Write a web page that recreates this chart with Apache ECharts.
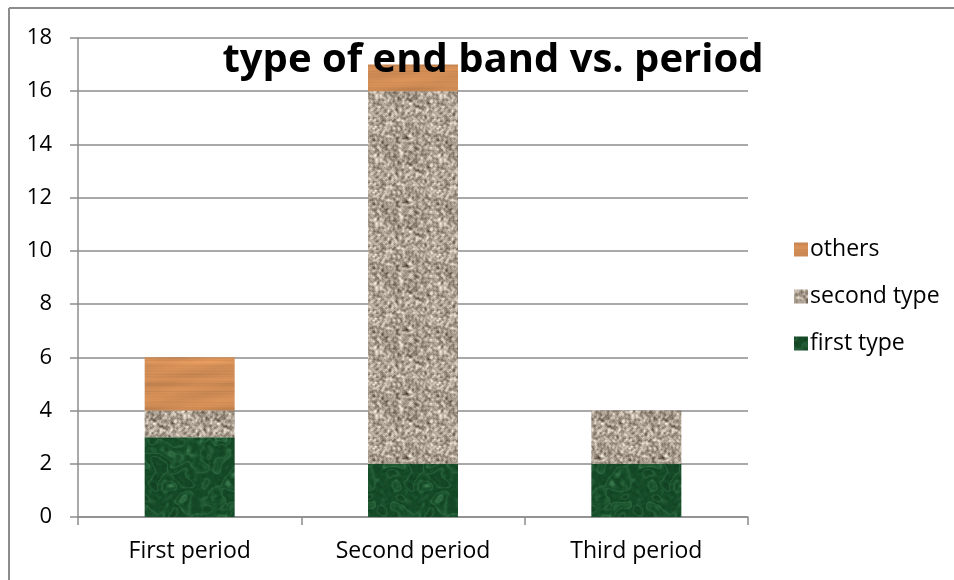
<!DOCTYPE html>
<html>
<head>
<meta charset="utf-8">
<script src="https://cdn.jsdelivr.net/npm/echarts@6/dist/echarts.min.js"></script>
<style>
html,body{margin:0;padding:0;background:#fff;}
#chart{width:954px;height:580px;}
</style>
</head>
<body>
<div id="chart"></div>
<script>
var categories = ['First period', 'Second period', 'Third period'];
var firstType = [3, 2, 2];
var secondType = [1, 14, 2];
var others = [2, 1, 0];
var yTicks = [0, 2, 4, 6, 8, 10, 12, 14, 16, 18];

// deterministic PRNG used only for fill textures (styling, not data)
function rng(seed){ return function(){ seed = (seed * 1664525 + 1013904223) >>> 0; return seed / 4294967296; }; }

function makeCanvas(w, h, fn){
  var c = document.createElement('canvas'); c.width = w; c.height = h;
  var ctx = c.getContext('2d'); var img = ctx.createImageData(w, h);
  fn(img.data, w, h); ctx.putImageData(img, 0, 0); return c;
}
function blur(arr, w, h, r){
  var out = new Float32Array(w*h);
  for (var y=0;y<h;y++) for (var x=0;x<w;x++){
    var s=0,n=0;
    for (var dy=-r;dy<=r;dy++) for (var dx=-r;dx<=r;dx++){
      var xx=(x+dx+w)%w, yy=(y+dy+h)%h; s+=arr[yy*w+xx]; n++;
    }
    out[y*w+x]=s/n;
  }
  return out;
}
function norm(arr){
  var mn=1e9,mx=-1e9; for (var i=0;i<arr.length;i++){ if(arr[i]<mn)mn=arr[i]; if(arr[i]>mx)mx=arr[i]; }
  for (var i=0;i<arr.length;i++) arr[i]=(arr[i]-mn)/(mx-mn); return arr;
}
function woodTex(){
  var r = rng(11);
  return makeCanvas(90, 64, function(d,w,h){
    var rowv = []; for (var y=0;y<h;y++) rowv.push(r());
    var rs = []; for (var y=0;y<h;y++){ rs.push((rowv[y]+rowv[(y+1)%h]+rowv[(y+h-1)%h]+rowv[(y+2)%h])/4); }
    for (var y=0;y<h;y++) for (var x=0;x<w;x++){
      var v = rs[y] + 0.2*Math.sin((x/w)*Math.PI*2 + y*0.3) * rs[(y+5)%h] + (r()-0.5)*0.05;
      var k = 0.84 + v*0.25;
      var i=(y*w+x)*4;
      d[i]=Math.min(255,220*k); d[i+1]=Math.min(255,148*k); d[i+2]=Math.min(255,90*k); d[i+3]=255;
    }
  });
}
function graniteTex(){
  var r = rng(7);
  return makeCanvas(64, 64, function(d,w,h){
    var a = new Float32Array(w*h); for (var i=0;i<w*h;i++) a[i]=r();
    var b = blur(a,w,h,1);
    for (var y=0;y<h;y++) for (var x=0;x<w;x++){
      var v = (b[y*w+x]-0.5)*3.4 + (a[y*w+x]-0.5)*0.4;
      var i=(y*w+x)*4;
      var base=[172,160,146];
      for (var c=0;c<3;c++) d[i+c]=Math.max(50,Math.min(238, base[c] + v*72));
      d[i+3]=255;
    }
  });
}
function marbleTex(){
  var r = rng(5);
  return makeCanvas(128, 128, function(d,w,h){
    var a = new Float32Array(w*h); for (var i=0;i<w*h;i++) a[i]=r();
    var big = norm(blur(blur(blur(a,w,h,4),w,h,4),w,h,3));
    var mid = norm(blur(blur(a,w,h,2),w,h,2));
    var fine = blur(a,w,h,1);
    for (var y=0;y<h;y++) for (var x=0;x<w;x++){
      var k = y*w+x;
      var vein = Math.abs(Math.sin((big[k]*3 + mid[k]*0.8)*Math.PI));
      var l = Math.pow(1-vein, 2)*0.3 + Math.max(0, mid[k]-0.55)*0.7;
      var i=k*4;
      var base=[22,80,42], hi=[88,156,108];
      var dark = 0.92 + (fine[k]-0.5)*0.45;
      for (var c=0;c<3;c++) d[i+c]=Math.max(0,Math.min(255,(base[c]*dark)*(1-l)+hi[c]*l));
      d[i+3]=255;
    }
  });
}

var woodPat = {image: woodTex(), repeat: 'repeat'};
var granPat = {image: graniteTex(), repeat: 'repeat'};
var marbPat = {image: marbleTex(), repeat: 'repeat'};

var FONT = '"Open Sans", sans-serif';
var chart = echarts.init(document.getElementById('chart'));
chart.setOption({
  animation: false,
  backgroundColor: '#fff',
  title: {
    text: 'type of end band vs. period',
    left: 488, top: 36, textAlign: 'center',
    textStyle: {fontFamily: '"Open Sans", sans-serif', fontWeight: 'bold', fontSize: 40, color: '#000'}
  },
  legend: {
    orient: 'vertical', left: 789, top: 233,
    itemWidth: 14, itemHeight: 14, itemGap: 24, icon: 'rect',
    data: ['others', 'second type', 'first type'],
    textStyle: {fontFamily: FONT, fontSize: 23, color: '#000', padding: [0,0,0,-3]}
  },
  grid: {left: 78, right: 206, top: 38, bottom: 63},
  xAxis: {
    type: 'category', data: categories,
    axisLine: {lineStyle: {color: '#8c8c8c', width: 1.5}},
    axisTick: {show: true, length: 8, lineStyle: {color: '#8c8c8c', width: 1.5}},
    axisLabel: {fontFamily: FONT, fontSize: 23, color: '#000', margin: 23}
  },
  yAxis: {
    type: 'value', min: 0, max: 18, interval: 2,
    axisLine: {show: true, lineStyle: {color: '#8c8c8c', width: 1.5}},
    axisTick: {show: true, length: 8, lineStyle: {color: '#8c8c8c', width: 1.5}},
    splitLine: {lineStyle: {color: '#8c8c8c', width: 1.5}},
    axisLabel: {fontFamily: FONT, fontSize: 22, color: '#000', margin: 26,
      formatter: function(v){ return yTicks.indexOf(v) >= 0 ? String(v) : ''; }}
  },
  series: [
    {name: 'first type', type: 'bar', stack: 's', barWidth: 90, data: firstType, itemStyle: {color: marbPat}},
    {name: 'second type', type: 'bar', stack: 's', barWidth: 90, data: secondType, itemStyle: {color: granPat}},
    {name: 'others', type: 'bar', stack: 's', barWidth: 90, data: others, itemStyle: {color: woodPat}}
  ],
  graphic: [
    {type: 'line', shape: {x1: 9, y1: 8, x2: 954, y2: 8}, style: {stroke: '#8c8c8c', lineWidth: 2}},
    {type: 'line', shape: {x1: 9, y1: 8, x2: 9, y2: 580}, style: {stroke: '#8c8c8c', lineWidth: 2}}
  ]
});
</script>
</body>
</html>
